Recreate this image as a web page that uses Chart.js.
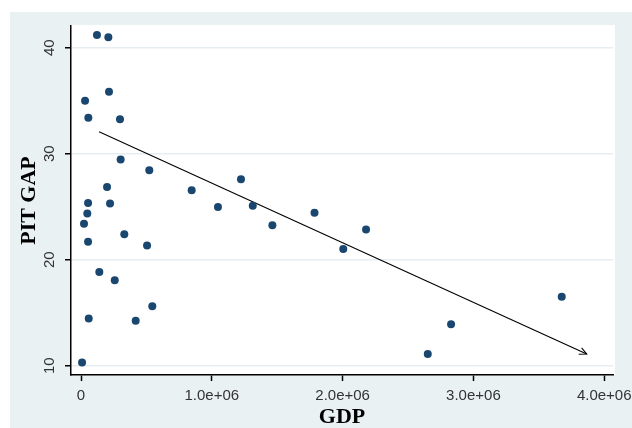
<!DOCTYPE html>
<html>
<head>
<meta charset="utf-8">
<script src="https://cdn.jsdelivr.net/npm/chart.js@4.4.1/dist/chart.umd.min.js"></script>
<style>
  html, body { margin: 0; padding: 0; background: #ffffff; }
  body { width: 632px; height: 428px; position: relative; overflow: hidden; }
  #wrap { position: absolute; left: 10px; top: 12px; width: 622px; height: 416px; background: #eaf1f3; }
  canvas { display: block; }
</style>
</head>
<body>
<div id="wrap"><canvas id="c" width="622" height="416"></canvas></div>
<script>
// ---- data ----
const gdp = [
  122000, 209000, 31000, 214000, 56000, 298000, 303000, 522000, 846000, 1223000,
  199000, 54000, 222000, 1047000, 1313000, 1785000, 48000, 23000, 54000, 331000,
  505000, 1463000, 2179000, 2005000, 140000, 258000, 59000, 418000, 545000, 8000,
  3675000, 2829000, 2651000
];
const pitGap = [
  41.2, 41.0, 35.0, 35.85, 33.4, 33.25, 29.45, 28.45, 26.55, 27.6,
  26.85, 25.35, 25.3, 24.97, 25.1, 24.42, 24.35, 23.4, 21.7, 22.4,
  21.35, 23.25, 22.85, 21.0, 18.85, 18.05, 14.45, 14.25, 15.6, 10.3,
  16.5, 13.9, 11.1
];
// fitted trend line (start and end, as drawn)
const trendX = [138000, 3866000];
const trendY = [32.08, 11.1];

const xTicks = [0, 1000000, 2000000, 3000000, 4000000];
const xTickLabels = ['0', '1.0e+06', '2.0e+06', '3.0e+06', '4.0e+06'];
const yTicks = [10, 20, 30, 40];
const xTitle = 'GDP';
const yTitle = 'PIT GAP';

const points = gdp.map((g, i) => ({ x: g, y: pitGap[i] }));
const trend = trendX.map((t, i) => ({ x: t, y: trendY[i] }));

const plotBg = {
  id: 'plotBg',
  beforeDraw(chart) {
    const a = chart.chartArea, ctx = chart.ctx;
    ctx.save();
    ctx.fillStyle = '#ffffff';
    ctx.fillRect(a.left, a.top - 1, a.right - a.left + 2, a.bottom - a.top + 1);
    ctx.restore();
  }
};

const arrowHead = {
  id: 'arrowHead',
  afterDatasetsDraw(chart) {
    const meta = chart.getDatasetMeta(1);
    const pts = meta.data;
    if (pts.length < 2) return;
    const p0 = pts[pts.length - 2], p1 = pts[pts.length - 1];
    const ang = Math.atan2(p1.y - p0.y, p1.x - p0.x);
    const len = 8, spread = 0.45;
    const ctx = chart.ctx;
    ctx.save();
    ctx.strokeStyle = '#000';
    ctx.lineWidth = 1.1;
    ctx.beginPath();
    ctx.moveTo(p1.x - len * Math.cos(ang - spread), p1.y - len * Math.sin(ang - spread));
    ctx.lineTo(p1.x, p1.y);
    ctx.lineTo(p1.x - len * Math.cos(ang + spread), p1.y - len * Math.sin(ang + spread));
    ctx.stroke();
    ctx.restore();
  }
};

new Chart(document.getElementById('c'), {
  type: 'scatter',
  data: {
    datasets: [
      {
        data: points,
        backgroundColor: '#1a476f',
        borderColor: '#1a476f',
        pointRadius: 4,
        pointBorderWidth: 0,
        showLine: false,
        order: 0
      },
      {
        data: trend,
        showLine: true,
        borderColor: '#000',
        borderWidth: 1.1,
        pointRadius: 0,
        fill: false,
        order: 1
      }
    ]
  },
  plugins: [plotBg, arrowHead],
  options: {
    responsive: false,
    animation: false,
    devicePixelRatio: 1,
    layout: { padding: { left: 0, top: 14, right: 19, bottom: 0 } },
    plugins: { legend: { display: false }, tooltip: { enabled: false } },
    scales: {
      x: {
        type: 'linear',
        min: -76500,
        max: 4067000,
        afterBuildTicks: s => { s.ticks = xTicks.map(v => ({ value: v })); },
        afterFit: s => { s.height = 53; s.paddingLeft = 0; s.paddingRight = 0; },
        ticks: {
          callback: (v) => { const i = xTicks.indexOf(v); return i >= 0 ? xTickLabels[i] : ''; },
          font: { family: 'Liberation Sans', size: 15 },
          color: '#333333',
          padding: 6,
          maxRotation: 0,
          minRotation: 0,
          autoSkip: false
        },
        grid: { drawOnChartArea: false, drawTicks: true, tickLength: 6, tickColor: '#000', tickWidth: 1.5 },
        border: { color: '#000', width: 1.5 },
        title: {
          display: true, text: xTitle, color: '#000',
          font: { family: 'Liberation Serif', size: 22, weight: 'bold', lineHeight: 1 },
          padding: { top: 0, bottom: 0 }
        }
      },
      y: {
        type: 'linear',
        min: 9.12,
        max: 42.05,
        afterBuildTicks: s => { s.ticks = yTicks.map(v => ({ value: v })); },
        afterFit: s => { s.width = 61; s.paddingTop = 0; s.paddingBottom = 0; },
        ticks: {
          font: { family: 'Liberation Sans', size: 15 },
          color: '#333333',
          padding: 7,
          minRotation: 90,
          maxRotation: 90,
          crossAlign: 'center',
          autoSkip: false
        },
        grid: { color: '#e6eef1', lineWidth: 1.5, drawTicks: true, tickLength: 6, tickColor: '#000', tickWidth: 1.5 },
        border: { color: '#000', width: 1.5 },
        title: {
          display: true, text: yTitle, color: '#000',
          font: { family: 'Liberation Serif', size: 22, weight: 'bold', lineHeight: 1 },
          padding: { top: 8, bottom: 0 }
        }
      }
    }
  }
});
</script>
</body>
</html>
